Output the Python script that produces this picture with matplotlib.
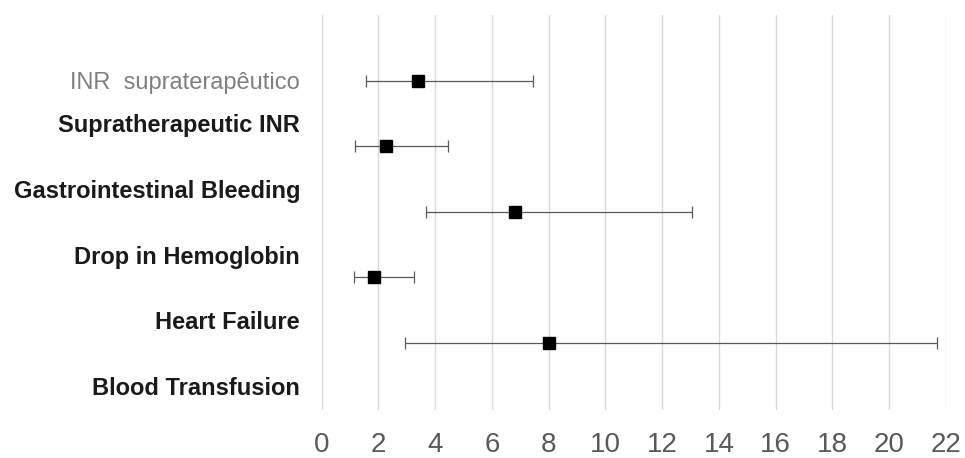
import matplotlib
matplotlib.use("Agg")
import matplotlib.pyplot as plt
import numpy as np

plt.rcParams["font.family"] = ["Liberation Sans", "DejaVu Sans"]

# odds ratio estimates with 95% CI, top to bottom
outcomes = [
    "Supratherapeutic INR",
    "Gastrointestinal Bleeding",
    "Drop in Hemoglobin",
    "Heart Failure",
    "Blood Transfusion",
]
header_label = "INR  supraterapêutico"
estimates = [3.38, 2.26, 6.82, 1.85, 8.0]
ci_low = [1.55, 1.18, 3.66, 1.14, 2.94]
ci_high = [7.46, 4.45, 13.05, 3.25, 21.7]
x_ticks = list(range(0, 23, 2))

est = np.array(estimates)
err = np.vstack([est - np.array(ci_low), np.array(ci_high) - est])
pos = np.arange(len(estimates))

fig = plt.figure(figsize=(9.65, 4.58), dpi=100)
ax = fig.add_axes([0.3334, 0.1048, 0.9803 - 0.3334, 0.9672 - 0.1048])

ax.errorbar(est, pos, xerr=err, fmt="none", ecolor="#5a5a5a",
            elinewidth=0.9, capsize=4.0, capthick=0.9, zorder=3)
ax.plot(est, pos, "s", color="black", markersize=8.2, zorder=4)

ax.set_xlim(0, 22)
ax.set_ylim(5.02, -1.0)
ax.set_xticks(x_ticks)
ax.set_xticklabels([str(t) for t in x_ticks])
ax.grid(axis="x", color="#d9d9d9", linewidth=1.0)
ax.set_axisbelow(True)

label_pos = [0] + list(np.arange(1, len(outcomes) + 1) - 0.35)
ax.set_yticks(label_pos)
ax.set_yticklabels([header_label] + outcomes)
for i, lbl in enumerate(ax.get_yticklabels()):
    lbl.set_fontsize(17)
    if i == 0:
        lbl.set_color("#808080")
    else:
        lbl.set_color("#1a1a1a")
        lbl.set_fontweight("bold")

ax.tick_params(axis="y", length=0, pad=15.6)
ax.tick_params(axis="x", length=0, pad=15.5, labelsize=20, labelcolor="#595959")
for s in ax.spines.values():
    s.set_visible(False)

fig.savefig("out.png", dpi=100)
